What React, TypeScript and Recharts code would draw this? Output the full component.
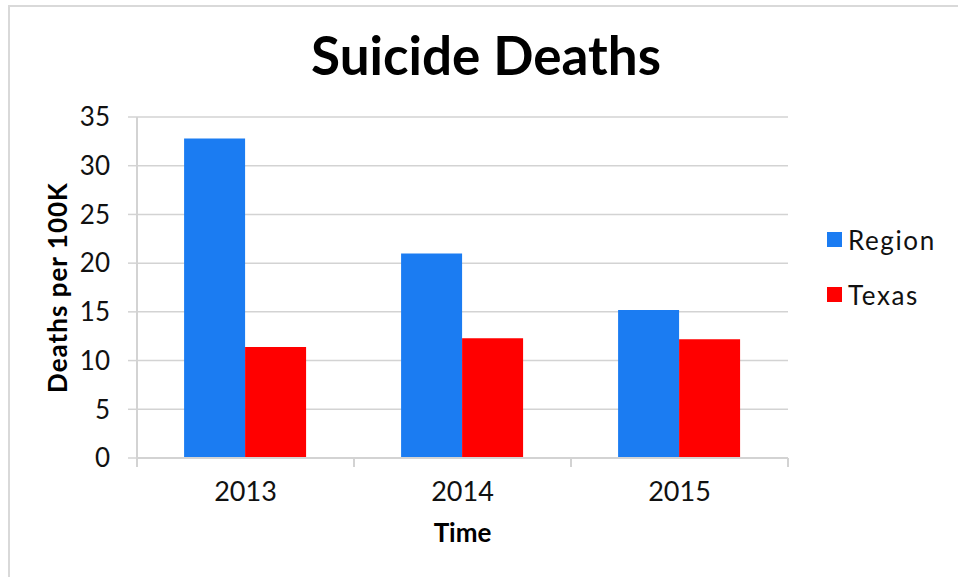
import React from "react";
import {
  Bar,
  BarChart,
  CartesianGrid,
  Legend,
  XAxis,
  YAxis,
} from "recharts";

const years = ["2013", "2014", "2015"];
const regionDeaths = [32.8, 21.0, 15.2];
const texasDeaths = [11.4, 12.3, 12.2];
const yTicks = [0, 5, 10, 15, 20, 25, 30, 35];

const data = years.map((year, i) => ({
  year,
  Region: regionDeaths[i],
  Texas: texasDeaths[i],
}));

const FONT = "Lato, 'Liberation Sans', sans-serif";
const GRID = "#d3d3d3";
const X_TICK_SIZE = 9;
const X_TICK_MARGIN = 15;

// year label plus tick marks on the category boundaries (not the centres)
const YearTick = ({ x, y, payload, index, visibleTicksCount }: any) => {
  const half = payload?.offset ?? 0;
  const top = y - X_TICK_SIZE - X_TICK_MARGIN;
  const bottom = top + X_TICK_SIZE;
  const edges = [x - half];
  if (index === visibleTicksCount - 1) edges.push(x + half);
  return (
    <g>
      {edges.map((ex) => (
        <line
          key={ex}
          x1={ex}
          x2={ex}
          y1={top}
          y2={bottom}
          stroke={GRID}
          strokeWidth={2}
        />
      ))}
      <text
        x={x}
        y={y}
        dy="0.71em"
        textAnchor="middle"
        fontSize={27}
        fill="#111"
        fontFamily={FONT}
      >
        {payload.value}
      </text>
    </g>
  );
};

const SeriesLegend = ({ payload }: any) => (
  <div style={{ fontFamily: FONT }}>
    {(payload || []).map((item: any) => (
      <div
        key={item.value}
        style={{
          display: "flex",
          alignItems: "center",
          height: 30,
          marginBottom: 25,
        }}
      >
        <span
          style={{
            width: 15,
            height: 15,
            background: item.color,
            display: "inline-block",
          }}
        />
        <span
          style={{
            marginLeft: 6,
            fontSize: 26,
            letterSpacing: 1.6,
            color: "#111",
          }}
        >
          {item.value}
        </span>
      </div>
    ))}
  </div>
);

const App: React.FC = () => {
  return (
    <div
      style={{
        position: "absolute",
        left: 0,
        top: 0,
        width: 958,
        height: 577,
        background: "#fff",
        fontFamily: FONT,
      }}
    >
      {/* chart frame, only top and left edges fall inside */}
      <div
        style={{
          position: "absolute",
          left: 8,
          top: 5,
          width: 950,
          height: 572,
          borderTop: "2px solid #d9d9d9",
          borderLeft: "2px solid #d9d9d9",
          boxSizing: "border-box",
        }}
      />
      <div
        style={{
          position: "absolute",
          left: 0,
          width: 972,
          top: 75 - 53 * 0.987,
          lineHeight: `${53 * 1.2}px`,
          fontSize: 53,
          fontWeight: 700,
          textAlign: "center",
          color: "#000",
        }}
      >
        Suicide Deaths
      </div>
      <BarChart
        width={958}
        height={577}
        data={data}
        margin={{ top: 117, right: 39, bottom: 0, left: 0 }}
        barGap={0}
        barCategoryGap="21.7%"
        style={{ position: "absolute", left: 0, top: 0 }}
      >
        <CartesianGrid vertical={false} stroke={GRID} strokeWidth={1.5} />
        <XAxis
          dataKey="year"
          height={119}
          axisLine={{ stroke: GRID, strokeWidth: 2 }}
          tickLine={false}
          tickSize={X_TICK_SIZE}
          tickMargin={X_TICK_MARGIN}
          tick={<YearTick />}
          label={{
            value: "Time",
            position: "insideTop",
            offset: 66,
            style: {
              fontSize: 26,
              fontWeight: 700,
              fill: "#000",
              fontFamily: FONT,
            },
          }}
        />
        <YAxis
          width={137}
          domain={[0, 35]}
          ticks={yTicks}
          interval={0}
          tickSize={9}
          tickMargin={18}
          axisLine={{ stroke: GRID, strokeWidth: 2 }}
          tickLine={{ stroke: GRID, strokeWidth: 1.5 }}
          tick={{ fontSize: 26, fill: "#111", fontFamily: FONT }}
          label={{
            value: "Deaths per 100K",
            angle: -90,
            position: "insideLeft",
            offset: 58,
            style: {
              textAnchor: "middle",
              fontSize: 26,
              fontWeight: 700,
              letterSpacing: 1,
              fill: "#000",
              fontFamily: FONT,
            },
          }}
        />
        <Legend
          layout="vertical"
          align="right"
          verticalAlign="top"
          content={<SeriesLegend />}
          wrapperStyle={{ left: 827, top: 224.5, right: "auto", width: 131 }}
        />
        <Bar dataKey="Region" fill="#1b7cf2" isAnimationActive={false} />
        <Bar dataKey="Texas" fill="#ff0000" isAnimationActive={false} />
      </BarChart>
    </div>
  );
};

export default App;
